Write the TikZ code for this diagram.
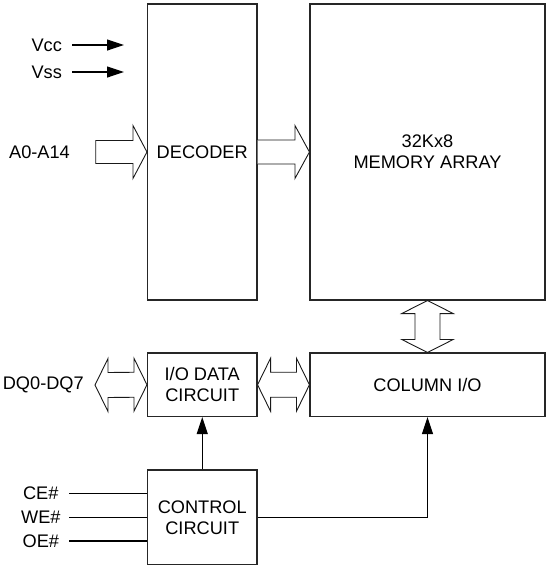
\documentclass[tikz,border=0pt]{standalone}
\usepackage{fontspec}
\setmainfont{Liberation Sans}
\usetikzlibrary{arrows.meta,calc}
\begin{document}
\begin{tikzpicture}[x=1pt,y=-1pt,
  box/.style={draw=black!85,line width=1.1pt,align=center,inner sep=0pt,
    font=\fontsize{18.2}{21}\selectfont},
  lbl/.style={inner sep=0pt,font=\fontsize{18.2}{21}\selectfont},
  hollow/.style={draw=black!90,line width=0.9pt,line join=miter,fill=white},
  wire/.style={draw=black,line width=1.2pt},
  tip/.style={wire,-{Triangle[length=17pt,width=11pt]}}]
\useasboundingbox (0,0) rectangle (551,571);
% boxes
\node[box,minimum width=109.5pt,minimum height=296pt] (dec) at (202.25,152) {DECODER};
\node[box,minimum width=235pt,minimum height=296pt] (mem) at (427.5,152) {32Kx8\\MEMORY ARRAY};
\node[box,minimum width=109.5pt,minimum height=63.5pt] (io) at (202.25,384.75) {I/O DATA\\CIRCUIT};
\node[box,minimum width=235pt,minimum height=63.5pt] (col) at (427.5,384.75) {COLUMN I/O};
\node[box,minimum width=109.5pt,minimum height=94.5pt] (ctl) at (202.25,517.25) {CONTROL\\CIRCUIT};
% labels
\node[lbl] (vcc) at (46.7,45) {Vcc};
\node[lbl] (vss) at (46.7,72) {Vss};
\node[lbl] (addr) at (39.5,152) {A0-A14};
\node[lbl] (dq) at (43.3,385) {DQ0-DQ7};
\node[lbl] (ce) at (40.8,493.7) {CE\#};
\node[lbl] (we) at (40.8,517.3) {WE\#};
\node[lbl] (oe) at (40.8,541) {OE\#};
% supply arrows
\coordinate (vccs) at (72,45);
\coordinate (vcce) at (124,45);
\coordinate (vsss) at (72,72);
\coordinate (vsse) at (124,72);
\draw[tip] (vccs) -- (vcce);
\draw[tip] (vsss) -- (vsse);
% address hollow arrow
\coordinate (as) at (95.7,152);
\coordinate (at) at (dec.west);
\draw[hollow] ($(as)+(0,-11.5)$) -- ($(at)+(-14,-11.5)$) -- ($(at)+(-14,-26.5)$) -- (at)
  -- ($(at)+(-14,26.5)$) -- ($(at)+(-14,11.5)$) -- ($(as)+(0,11.5)$) -- cycle;
% decoder -> memory
\coordinate (ds) at (dec.east);
\coordinate (dt) at (mem.west);
\draw[hollow] ($(ds)+(0,-12)$) -- ($(dt)+(-14.5,-12)$) -- ($(dt)+(-14.5,-26.5)$) -- (dt)
  -- ($(dt)+(-14.5,26.5)$) -- ($(dt)+(-14.5,12)$) -- ($(ds)+(0,12)$);
% DQ double arrow
\coordinate (ql) at (95,385);
\coordinate (qr) at (io.west);
\draw[hollow] (ql) -- ($(ql)+(13,-26.5)$) -- ($(ql)+(13,-12.5)$) -- ($(qr)+(-13,-12.5)$)
  -- ($(qr)+(-13,-26.5)$) -- (qr) -- ($(qr)+(-13,26.5)$) -- ($(qr)+(-13,12.5)$)
  -- ($(ql)+(13,12.5)$) -- ($(ql)+(13,26.5)$) -- cycle;
% IO <-> column
\coordinate (il) at (io.east);
\coordinate (ir) at (col.west);
\draw[hollow] (il) -- ($(il)+(13,-26.5)$) -- ($(il)+(13,-12.5)$) -- ($(ir)+(-13,-12.5)$)
  -- ($(ir)+(-13,-26.5)$) -- (ir) -- ($(ir)+(-13,26.5)$) -- ($(ir)+(-13,12.5)$)
  -- ($(il)+(13,12.5)$) -- ($(il)+(13,26.5)$) -- cycle;
% memory <-> column
\coordinate (vt) at (mem.south);
\coordinate (vb) at (col.north);
\draw[hollow] (vt) -- ($(vt)+(-25.8,13)$) -- ($(vt)+(-12.5,13)$) -- ($(vb)+(-12.5,-13)$)
  -- ($(vb)+(-25.8,-13)$) -- (vb) -- ($(vb)+(25.8,-13)$) -- ($(vb)+(12.5,-13)$)
  -- ($(vt)+(12.5,13)$) -- ($(vt)+(25.8,13)$) -- cycle;
% control wires
\draw[tip] (ctl.north) -- (io.south);
\draw[tip] (ctl.east) -| (col.south);
\coordinate (cein) at (69,493.7);
\coordinate (wein) at (69,517.3);
\coordinate (oein) at (69,541);
\draw[wire] (cein) -- (cein -| ctl.west);
\draw[wire] (wein) -- (wein -| ctl.west);
\draw[wire] (oein) -- (oein -| ctl.west);
\end{tikzpicture}
\end{document}
